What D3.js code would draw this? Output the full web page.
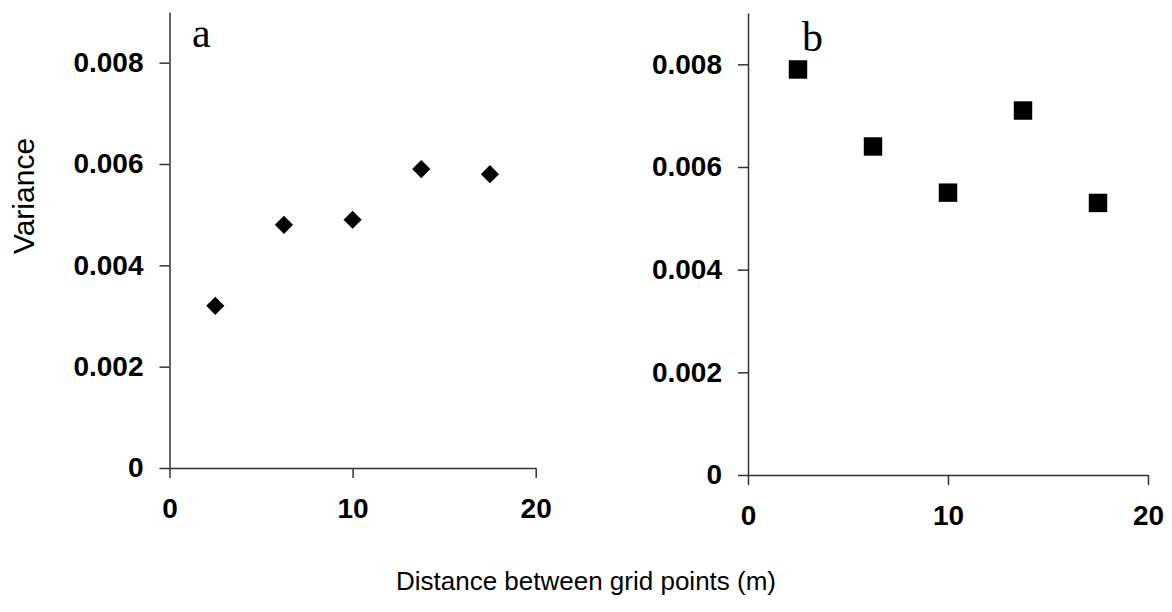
<!DOCTYPE html>
<html>
<head>
<meta charset="utf-8">
<script src="https://cdn.jsdelivr.net/npm/d3@7"></script>
<style>
  html, body { margin: 0; padding: 0; background: #fff; }
  svg { display: block; }
</style>
</head>
<body>
<svg id="chart" width="1172" height="612"></svg>
<script>
// ---- data ----
const distances = [2.5, 6.25, 10, 13.75, 17.5];
const varianceA = [0.0032, 0.0048, 0.0049, 0.0059, 0.0058];
const varianceB = [0.0079, 0.0064, 0.0055, 0.0071, 0.0053];
const yTicks = [0, 0.002, 0.004, 0.006, 0.008];
const yTickLabels = ["0", "0.002", "0.004", "0.006", "0.008"];
const xTicks = [0, 10, 20];
const panelLabels = ["a", "b"];
const yTitle = "Variance";
const xTitle = "Distance between grid points (m)";

const svg = d3.select("#chart");
const sans = "'Liberation Sans', Arial, sans-serif";
const serif = "'Liberation Serif', 'Times New Roman', serif";
const axisColor = "#333";

const panels = [
  { left: 169.5, right: 535.7, top: 12, bottom: 468, values: varianceA, symbol: "diamond", label: panelLabels[0], lx: 192, ly: 47 },
  { left: 748, right: 1148, top: 13, bottom: 475, values: varianceB, symbol: "square", label: panelLabels[1], lx: 802, ly: 51 }
];

panels.forEach(p => {
  const x = d3.scaleLinear().domain([0, 20]).range([p.left, p.right]);
  const y = d3.scaleLinear().domain([0, 0.009]).range([p.bottom, p.top]);
  const g = svg.append("g");

  const yAxis = d3.axisLeft(y)
    .tickValues(yTicks)
    .tickFormat((d, i) => yTickLabels[i])
    .tickSize(10).tickSizeOuter(0).tickPadding(16);
  const gy = g.append("g").attr("transform", `translate(${p.left},0)`).call(yAxis);

  const xAxis = d3.axisBottom(x)
    .tickValues(xTicks)
    .tickFormat(d3.format("d"))
    .tickSize(10).tickSizeOuter(0).tickPadding(20);
  const gx = g.append("g").attr("transform", `translate(0,${p.bottom})`).call(xAxis);

  [gy, gx].forEach(ax => {
    ax.select(".domain").attr("stroke", axisColor).attr("stroke-width", 1.5);
    ax.selectAll(".tick line").attr("stroke", axisColor).attr("stroke-width", 1.5);
    ax.selectAll(".tick text")
      .attr("fill", "#000")
      .style("font-family", sans)
      .style("font-weight", "bold")
      .style("font-size", "28px");
  });

  const sym = p.symbol === "diamond"
    ? d3.symbol().type(d3.symbolSquare).size(165)
    : d3.symbol().type(d3.symbolSquare).size(340);

  g.selectAll("path.pt")
    .data(distances.map((d, i) => ({ x: d, y: p.values[i] })))
    .join("path")
    .attr("class", "pt")
    .attr("d", sym())
    .attr("fill", "#000")
    .attr("transform", d => `translate(${x(d.x)},${y(d.y)})` + (p.symbol === "diamond" ? " rotate(45)" : ""));

  g.append("text")
    .attr("x", p.lx).attr("y", p.ly)
    .style("font-family", serif)
    .style("font-size", "42px")
    .attr("fill", "#000")
    .text(p.label);
});

svg.append("text")
  .attr("transform", "translate(34,196) rotate(-90)")
  .attr("text-anchor", "middle")
  .style("font-family", sans)
  .style("font-size", "30px")
  .attr("fill", "#000")
  .text(yTitle);

svg.append("text")
  .attr("x", 586).attr("y", 590)
  .attr("text-anchor", "middle")
  .style("font-family", sans)
  .style("font-size", "26px")
  .attr("fill", "#000")
  .text(xTitle);
</script>
</body>
</html>
